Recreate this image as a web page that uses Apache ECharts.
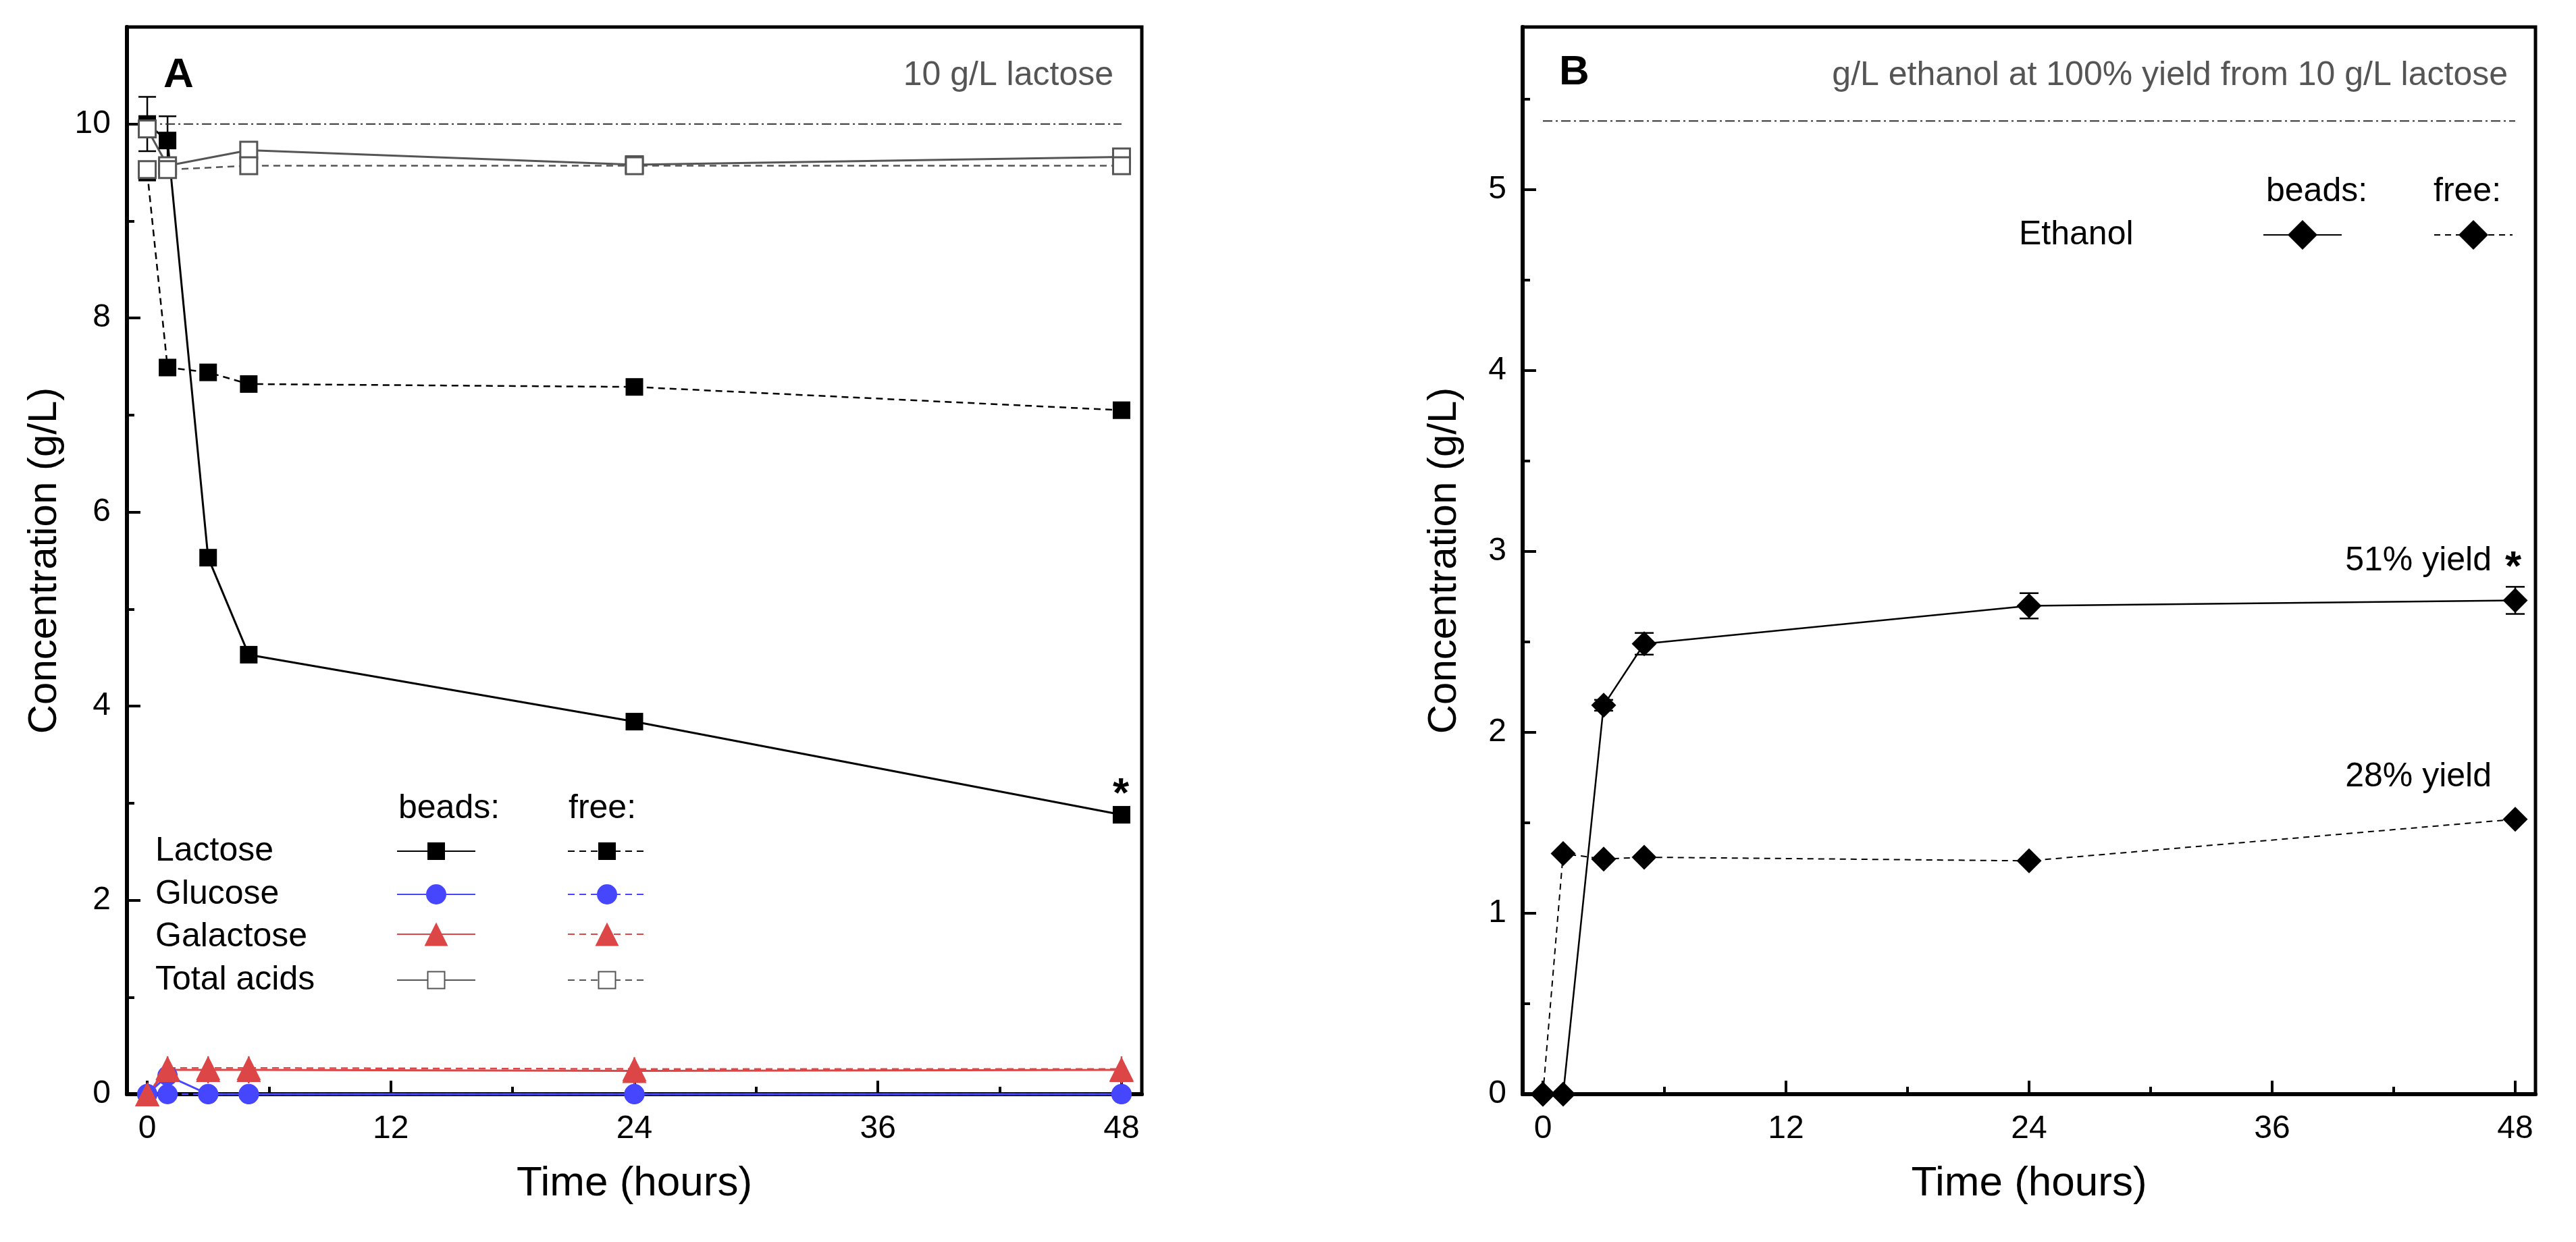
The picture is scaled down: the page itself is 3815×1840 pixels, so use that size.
<!DOCTYPE html>
<html>
<head>
<meta charset="utf-8">
<script src="https://cdn.jsdelivr.net/npm/echarts@6/dist/echarts.min.js"></script>
<style>
  html, body { margin: 0; padding: 0; background: #fff; }
  #chart { width: 3815px; height: 1840px; }
</style>
</head>
<body>
<div id="chart"></div>
<script>
// ---- data ----
var hours = [0, 1, 3, 5, 24, 48];
var acidHours = [0, 1, 5, 24, 48];

// panel A (g/L)
var lactoseBeads = [10.0, 9.83, 5.53, 4.53, 3.84, 2.88];
var lactoseFree = [9.5, 7.49, 7.44, 7.32, 7.29, 7.05];
var lactoseBeadsErr = [0.28, 0.25, 0, 0, 0, 0];
var glucoseBeads = [0, 0.19, 0, 0, 0, 0];
var glucoseFree = [0, 0, 0, 0, 0, 0];
var galactoseBeads = [0, 0.25, 0.25, 0.25, 0.24, 0.25];
var galactoseFree = [0, 0.27, 0.27, 0.27, 0.26, 0.26];
var galactoseErr = [0, 0.14, 0.14, 0.14, 0.14, 0.14];
var acidsBeads = [9.95, 9.57, 9.73, 9.58, 9.66];
var acidsFree = [9.53, 9.53, 9.57, 9.57, 9.57];
var lactoseRef = 10;

// panel B (g/L)
var ethanolBeads = [0, 0, 2.15, 2.49, 2.70, 2.73];
var ethanolFree = [0, 1.33, 1.30, 1.31, 1.29, 1.52];
var ethanolBeadsErr = [0, 0, 0.03, 0.06, 0.07, 0.075];
var ethanolRef = 5.38;

// ticks
var xMajor = [0, 12, 24, 36, 48];
var xMinor = [6, 18, 30, 42];
var yMajorA = [0, 2, 4, 6, 8, 10];
var yMinorA = [1, 3, 5, 7, 9];
var yMajorB = [0, 1, 2, 3, 4, 5];
var yMinorB = [0.5, 1.5, 2.5, 3.5, 4.5, 5.5];

var FONT = '"Liberation Sans", Arial, sans-serif';
var BLUE = '#4646ff';
var RED = '#dc4646';
var GREY = '#555555';

function pairs(xs, ys) {
  return xs.map(function (x, i) { return [x, ys[i]]; });
}

function lineSeries(name, ax, xs, ys, color, dashed, symbol, size, extra) {
  var s = {
    name: name,
    type: 'line',
    xAxisIndex: ax,
    yAxisIndex: ax,
    data: pairs(xs, ys),
    symbol: symbol,
    symbolSize: size,
    clip: false,
    lineStyle: { color: color, width: dashed ? 2.5 : 3, type: dashed ? [10, 7] : 'solid' },
    itemStyle: { color: color }
  };
  for (var k in extra) s[k] = extra[k];
  return s;
}

function refLine(ax, y) {
  return {
    type: 'line', xAxisIndex: ax, yAxisIndex: ax, silent: true,
    data: [[0, y], [48, y]], symbol: 'none',
    lineStyle: { color: '#333', width: 2, type: [14, 5, 3, 5] }
  };
}

function errorSeries(ax, xs, ys, errs, color, capHalf) {
  var d = [];
  xs.forEach(function (x, i) {
    if (errs[i] > 0) d.push([x, ys[i] - errs[i], ys[i] + errs[i]]);
  });
  return {
    type: 'custom', xAxisIndex: ax, yAxisIndex: ax, silent: true, clip: false,
    data: d,
    renderItem: function (params, api) {
      var lo = api.coord([api.value(0), api.value(1)]);
      var hi = api.coord([api.value(0), api.value(2)]);
      var st = { stroke: color, lineWidth: 2.5 };
      var kids = [{ type: 'line', shape: { x1: lo[0], y1: lo[1], x2: hi[0], y2: hi[1] }, style: st }];
      if (capHalf > 0) {
        kids.push({ type: 'line', shape: { x1: lo[0] - capHalf, y1: lo[1], x2: lo[0] + capHalf, y2: lo[1] }, style: st });
        kids.push({ type: 'line', shape: { x1: hi[0] - capHalf, y1: hi[1], x2: hi[0] + capHalf, y2: hi[1] }, style: st });
      }
      return { type: 'group', children: kids };
    }
  };
}

function mainX(grid) {
  return {
    type: 'value', gridIndex: grid, min: -1, max: 49, position: 'bottom',
    axisLine: { show: true, onZero: false, lineStyle: { color: '#000', width: 6 } },
    axisTick: { show: true, inside: true, length: 20, customValues: xMajor, lineStyle: { color: '#000', width: 4 } },
    axisLabel: { customValues: xMajor, fontSize: 48, color: '#000', fontFamily: FONT, margin: 28 },
    splitLine: { show: false },
    name: 'Time (hours)', nameLocation: 'middle', nameGap: 102,
    nameTextStyle: { fontSize: 62, color: '#000', fontFamily: FONT }
  };
}
function minorX(grid) {
  return {
    type: 'value', gridIndex: grid, min: -1, max: 49, position: 'bottom',
    axisLine: { show: false, onZero: false },
    axisTick: { show: true, inside: true, length: 11, customValues: xMinor, lineStyle: { color: '#000', width: 4 } },
    axisLabel: { show: false }, splitLine: { show: false }
  };
}
function mainY(grid, max, major, gap) {
  return {
    type: 'value', gridIndex: grid, min: 0, max: max, position: 'left',
    axisLine: { show: true, onZero: false, lineStyle: { color: '#000', width: 6 } },
    axisTick: { show: true, inside: true, length: 20, customValues: major, lineStyle: { color: '#000', width: 4 } },
    axisLabel: { customValues: major, fontSize: 48, color: '#000', fontFamily: FONT, margin: 24 },
    splitLine: { show: false },
    name: 'Concentration (g/L)', nameLocation: 'middle', nameGap: gap,
    nameTextStyle: { fontSize: 60, color: '#000', fontFamily: FONT }
  };
}
function minorY(grid, max, minor) {
  return {
    type: 'value', gridIndex: grid, min: 0, max: max, position: 'left',
    axisLine: { show: false, onZero: false },
    axisTick: { show: true, inside: true, length: 11, customValues: minor, lineStyle: { color: '#000', width: 4 } },
    axisLabel: { show: false }, splitLine: { show: false }
  };
}

function txt(x, y, text, size, opts) {
  opts = opts || {};
  return {
    type: 'text', x: x, y: y, z: 100, silent: true,
    style: {
      text: text, fontSize: size, fontFamily: FONT,
      fontWeight: opts.bold ? 'bold' : 'normal',
      fill: opts.color || '#000',
      align: opts.align || 'left', verticalAlign: 'middle'
    }
  };
}

// one legend cell: line sample with the series symbol (symbol = 0.8 * itemHeight)
function legendCell(name, left, cy, symSize) {
  var h = symSize / 0.8;
  return {
    data: [name], orient: 'vertical', left: left, top: cy - h / 2, padding: 0,
    itemWidth: 116, itemHeight: h, selectedMode: false,
    formatter: function () { return ''; },
    textStyle: { fontSize: 10 }
  };
}

var openSquare = { itemStyle: { color: '#fff', borderColor: GREY, borderWidth: 3 } };

var series = [
  refLine(0, lactoseRef),
  lineSeries('Lactose beads', 0, hours, lactoseBeads, '#000', false, 'rect', 26),
  lineSeries('Lactose free', 0, hours, lactoseFree, '#000', true, 'rect', 26),
  errorSeries(0, hours, lactoseBeads, lactoseBeadsErr, '#000', 13),
  lineSeries('Total acids beads', 0, acidHours, acidsBeads, GREY, false, 'rect', 25, openSquare),
  lineSeries('Total acids free', 0, acidHours, acidsFree, GREY, true, 'rect', 25, openSquare),
  errorSeries(0, hours, galactoseBeads, galactoseErr, RED, 0),
  lineSeries('Glucose beads', 0, hours, glucoseBeads, BLUE, false, 'circle', 30),
  lineSeries('Glucose free', 0, hours, glucoseFree, BLUE, true, 'circle', 30),
  lineSeries('Galactose beads', 0, hours, galactoseBeads, RED, false, 'triangle', 36),
  lineSeries('Galactose free', 0, hours, galactoseFree, RED, true, 'triangle', 36),

  refLine(2, ethanolRef),
  errorSeries(2, hours, ethanolBeads, ethanolBeadsErr, '#000', 14),
  lineSeries('Ethanol beads', 2, hours, ethanolBeads, '#000', false, 'diamond', 37, { lineStyle: { color: '#000', width: 2.5 } }),
  lineSeries('Ethanol free', 2, hours, ethanolFree, '#000', true, 'diamond', 37, { lineStyle: { color: '#000', width: 2, type: [9, 7] } })
];

var option = {
  animation: false,
  backgroundColor: '#fff',
  grid: [
    { left: 188, top: 40, width: 1503, height: 1581, show: true, borderColor: '#000', borderWidth: 5, backgroundColor: 'transparent' },
    { left: 2255, top: 40, width: 1500, height: 1581, show: true, borderColor: '#000', borderWidth: 5, backgroundColor: 'transparent' }
  ],
  xAxis: [mainX(0), minorX(0), mainX(1), minorX(1)],
  yAxis: [
    mainY(0, 11, yMajorA, 92), minorY(0, 11, yMinorA),
    mainY(1, 5.9, yMajorB, 86), minorY(1, 5.9, yMinorB)
  ],
  legend: [
    legendCell('Lactose beads', 587, 1261, 26),
    legendCell('Lactose free', 840, 1261, 26),
    legendCell('Glucose beads', 587, 1325, 30),
    legendCell('Glucose free', 840, 1325, 30),
    legendCell('Galactose beads', 587, 1384, 35),
    legendCell('Galactose free', 840, 1384, 35),
    legendCell('Total acids beads', 587, 1452, 25),
    legendCell('Total acids free', 840, 1452, 25),
    legendCell('Ethanol beads', 3351, 348, 44),
    legendCell('Ethanol free', 3604, 348, 44)
  ],
  graphic: [
    txt(242, 112, 'A', 62, { bold: true }),
    txt(1649, 112, '10 g/L lactose', 50, { color: GREY, align: 'right' }),
    txt(1660, 1178, '*', 62, { bold: true, align: 'center' }),
    txt(590, 1198, 'beads:', 50),
    txt(842, 1198, 'free:', 50),
    txt(230, 1261, 'Lactose', 50),
    txt(230, 1325, 'Glucose', 50),
    txt(230, 1388, 'Galactose', 50),
    txt(230, 1452, 'Total acids', 50),

    txt(2309, 108, 'B', 62, { bold: true }),
    txt(3714, 112, 'g/L ethanol at 100% yield from 10 g/L lactose', 50, { color: GREY, align: 'right' }),
    txt(3356, 284, 'beads:', 50),
    txt(3604, 284, 'free:', 50),
    txt(2990, 348, 'Ethanol', 50),
    txt(3690, 831, '51% yield', 50, { align: 'right' }),
    txt(3722, 842, '*', 62, { bold: true, align: 'center' }),
    txt(3690, 1151, '28% yield', 50, { align: 'right' })
  ],
  series: series
};

var chart = echarts.init(document.getElementById('chart'));
chart.setOption(option);
</script>
</body>
</html>
